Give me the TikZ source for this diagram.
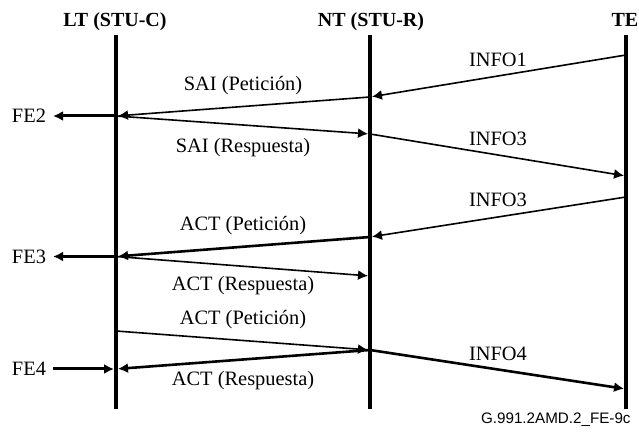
\documentclass[tikz,border=0pt]{standalone}
\usepackage{fontspec}
\setmainfont{Liberation Serif}
\setsansfont{Liberation Sans}
\usetikzlibrary{arrows.meta}

\begin{document}
\begin{tikzpicture}[x=0.5pt,y=-0.5pt,
    lifeline/.style={line width=2pt},
    msg/.style={line width=0.8pt, -{Latex[length=5pt,width=5pt]}, shorten >=1pt},
    thickmsg/.style={msg, line width=1.3pt},
    fearrow/.style={line width=1.5pt, -{Latex[length=5pt,width=5pt]}},
    lbl/.style={font=\fontsize{10.2}{12}\selectfont, inner sep=0pt},
    felbl/.style={font=\fontsize{10.2}{12}\selectfont},
    head/.style={font=\fontsize{10}{12}\selectfont\bfseries, inner sep=0pt, anchor=base}]

\useasboundingbox (0,0) rectangle (639,432);

% Headers and lifelines
\node [head] (lthead) at (115,27) {LT (STU-C)};
\node [head] (nthead) at (371,27) {NT (STU-R)};
\node [head] (tehead) at (625,27) {TE};

\draw [lifeline] (116,35) coordinate (lttop) -- (116,409) coordinate (ltbot);
\draw [lifeline] (370,35) coordinate (nttop) -- (370,409) coordinate (ntbot);
\draw [lifeline] (626,35) coordinate (tetop) -- (626,409) coordinate (tebot);

% Events on the lifelines
\coordinate (te1) at (626,55);
\coordinate (nt1) at (370,97);
\coordinate (lt1) at (116,116);
\coordinate (nt2) at (370,134);
\coordinate (te2) at (626,176);
\coordinate (te3) at (626,197);
\coordinate (nt3) at (370,237);
\coordinate (lt2) at (116,256.5);
\coordinate (nt4) at (370,276);
\coordinate (lt3) at (116,331);
\coordinate (nt5) at (370,350);
\coordinate (te4) at (626,389);
\coordinate (lt4) at (116,369);

% SAI exchange
\draw [msg] (te1) -- (nt1)
    node [lbl, midway, yshift=8pt] (info1) {INFO1};
\draw [msg] (nt1) -- (lt1)
    node [lbl, midway, yshift=10.25pt] (saipet) {SAI (Petición)};
\draw [msg] (lt1) -- (nt2)
    node [lbl, midway, yshift=-11.5pt] (saires) {SAI (Respuesta)};
\draw [msg] (nt2) -- (te2)
    node [lbl, midway, yshift=8pt] (info3a) {INFO3};

% ACT exchange
\draw [msg] (te3) -- (nt3)
    node [lbl, midway, yshift=8.75pt] (info3b) {INFO3};
\draw [thickmsg] (nt3) -- (lt2)
    node [lbl, midway, yshift=10.6pt] (actpeta) {ACT (Petición)};
\draw [msg] (lt2) -- (nt4)
    node [lbl, midway, yshift=-9.5pt] (actresa) {ACT (Respuesta)};
\draw [msg] (lt3) -- (nt5)
    node [lbl, midway, yshift=10.5pt] (actpetb) {ACT (Petición)};
\draw [thickmsg] (nt5) -- (te4)
    node [lbl, midway, yshift=8pt] (info4) {INFO4};
\draw [thickmsg] (nt5) -- (lt4)
    node [lbl, midway, yshift=-10.75pt] (actresb) {ACT (Respuesta)};

% FE signals
\node [felbl] (fe2) at (29,116) {FE2};
\node [felbl] (fe3) at (29,256.5) {FE3};
\node [felbl] (fe4) at (29,369) {FE4};
\draw [fearrow] (lt1) -- (fe2);
\draw [fearrow] (lt2) -- (fe3);
\draw [fearrow, shorten >=1pt] (fe4) -- (lt4);

\node [anchor=east, inner sep=0pt, font=\sffamily\fontsize{7.6}{9}\selectfont]
    (figid) at (631,420) {G.991.2AMD.2\_FE-9c};

\end{tikzpicture}
\end{document}
